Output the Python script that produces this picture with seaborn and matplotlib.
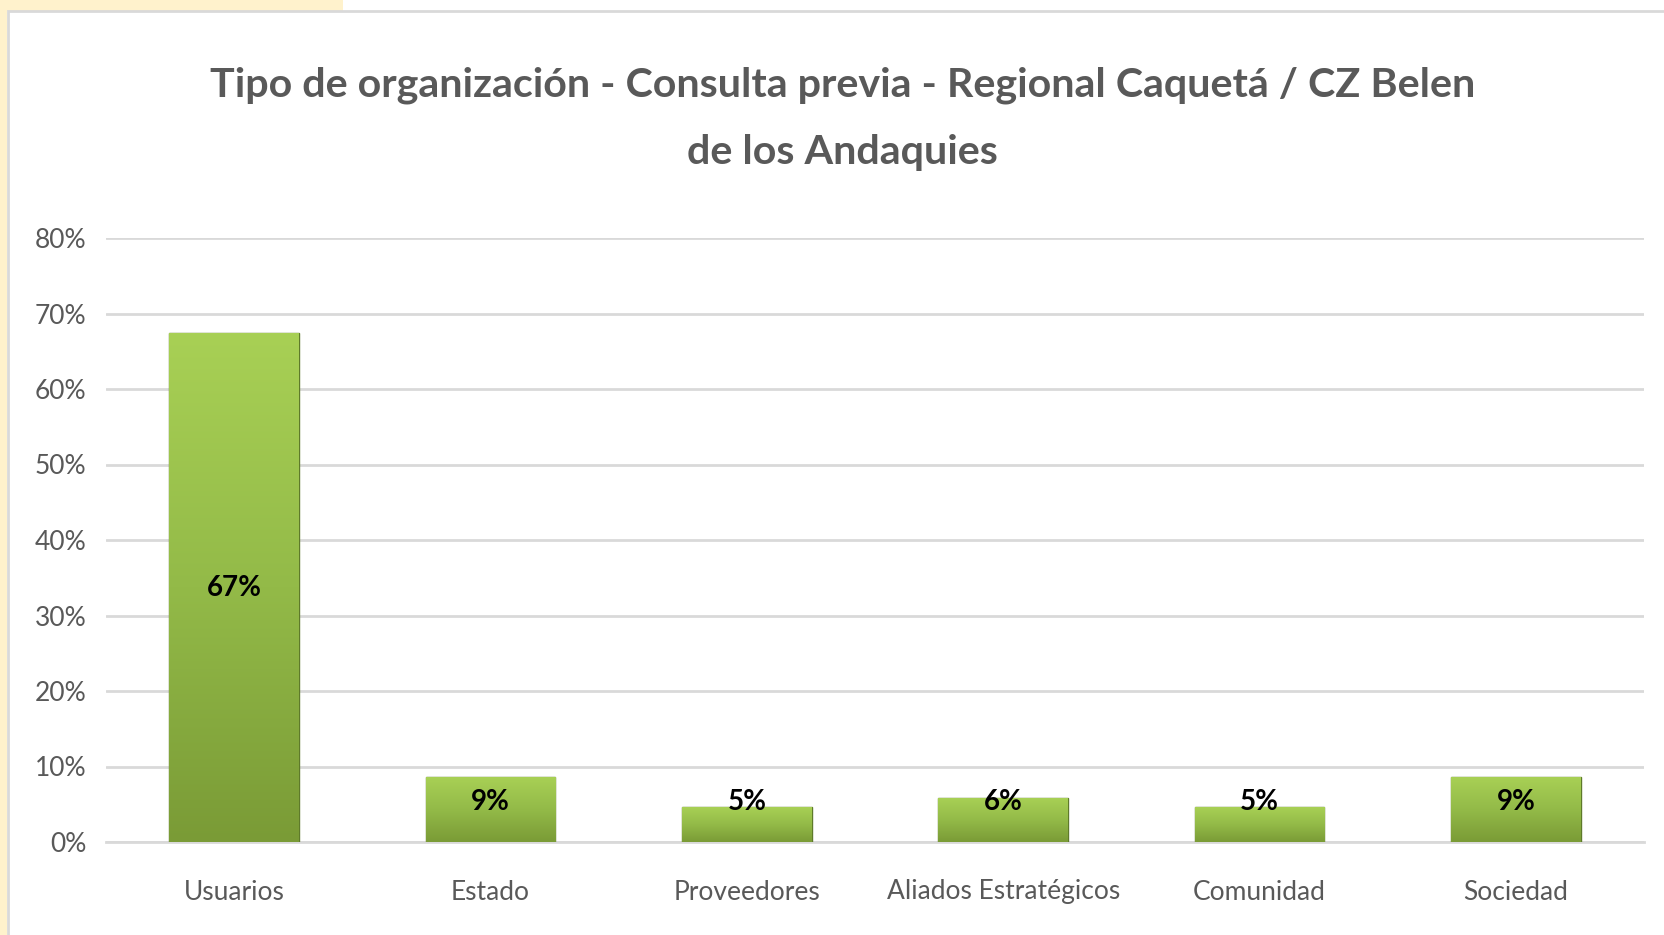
import matplotlib
matplotlib.use("Agg")
import matplotlib.pyplot as plt
import seaborn as sns
import numpy as np
import pandas as pd
from matplotlib.patches import Rectangle
from matplotlib.colors import LinearSegmentedColormap

categories = ["Usuarios", "Estado", "Proveedores", "Aliados Estratégicos", "Comunidad", "Sociedad"]
values = [0.674, 0.086, 0.046, 0.058, 0.046, 0.086]
labels = ["67%", "9%", "5%", "6%", "5%", "9%"]
yticks = [0, 0.1, 0.2, 0.3, 0.4, 0.5, 0.6, 0.7, 0.8]
ytick_labels = ["0%", "10%", "20%", "30%", "40%", "50%", "60%", "70%", "80%"]
title = "Tipo de organización - Consulta previa - Regional Caquetá / CZ Belen\nde los Andaquies"

sns.set_theme(style="white")
plt.rcParams["font.family"] = ["Lato", "DejaVu Sans"]

W, H = 1665, 935
fig = plt.figure(figsize=(W / 100, H / 100), dpi=100)
fig.patch.set_facecolor("white")

# Excel-like background decorations
fig.add_artist(Rectangle((0, 0), 7 / W, 1, transform=fig.transFigure, facecolor="#FFF2CC", edgecolor="none", zorder=0))
fig.add_artist(Rectangle((0, 1 - 11 / H), 343 / W, 11 / H, transform=fig.transFigure, facecolor="#FFF2CC", edgecolor="none", zorder=0))
fig.add_artist(Rectangle((8 / W, -0.01), 1.0, 1 - 11 / H + 0.01, transform=fig.transFigure,
                         facecolor="white", edgecolor="#D9D9D9", linewidth=2, zorder=0))

ax = fig.add_axes([106 / W, 1 - 842 / H, (1644 - 106) / W, (842 - 238) / H])
df = pd.DataFrame({"cat": categories, "val": values})
sns.barplot(data=df, x="cat", y="val", ax=ax, color="#92B847", width=0.505,
            edgecolor="#5E7A2A", linewidth=1.0, saturation=1, zorder=3)

ax.set_xlim(-0.5, len(categories) - 0.5)
ax.set_ylim(0, 0.8)
ax.set_yticks(yticks)
ax.set_yticklabels(ytick_labels)
ax.yaxis.grid(True, color="#D9D9D9", linewidth=2)
ax.set_axisbelow(True)
for s in ["top", "right", "left"]:
    ax.spines[s].set_visible(False)
ax.spines["bottom"].set_color("#D9D9D9")
ax.spines["bottom"].set_linewidth(2)
ax.tick_params(axis="both", length=0, labelsize=19, labelcolor="#595959", pad=14)
ax.tick_params(axis="x", pad=27)
ax.set_xlabel("")
ax.set_ylabel("")

# gradient fill on bars
cmap = LinearSegmentedColormap.from_list("g", ["#7A9B36", "#93BA48", "#A8D055"])
grad = np.linspace(0, 1, 256).reshape(-1, 1)
for p in ax.patches:
    x0, y0 = p.get_x(), p.get_y()
    w, h = p.get_width(), p.get_height()
    im = ax.imshow(grad, extent=[x0, x0 + w, y0, y0 + h], origin="lower", aspect="auto",
                   cmap=cmap, zorder=3.5)
    im.set_clip_path(p)
ax.set_xlim(-0.5, len(categories) - 0.5)
ax.set_ylim(0, 0.8)

for i, (v, lab) in enumerate(zip(values, labels)):
    y = v / 2 if v > 0.3 else max(v - 0.033, 0.053)
    ax.text(i, y, lab, ha="center", va="center", fontsize=20, fontweight="bold", color="black", zorder=5)

fig.text(0.506, 1 - 119 / H, title, ha="center", va="center", fontsize=29.7, fontweight="bold",
         color="#595959", linespacing=2.0)

fig.savefig("out.png", dpi=100)
